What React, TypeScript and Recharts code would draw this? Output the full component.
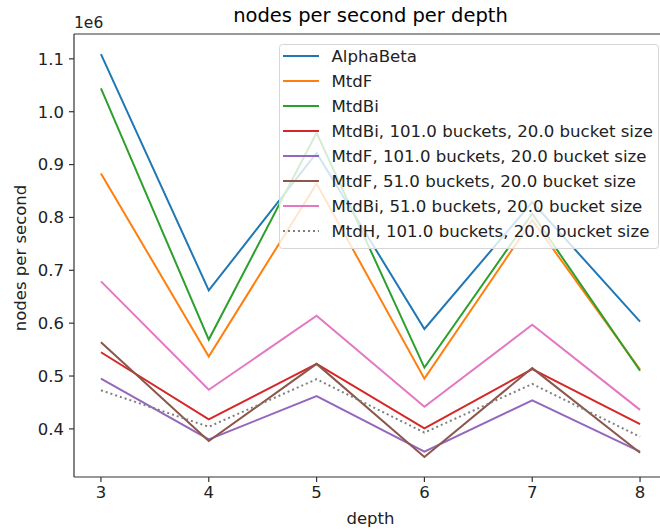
import React from 'react'
import { LineChart, Line, XAxis, YAxis, ReferenceLine } from 'recharts'

const depths = [3, 4, 5, 6, 7, 8]

const alphaBeta = [1109000, 662000, 922000, 589000, 829000, 603000]
const mtdF = [883000, 537000, 864000, 495000, 795000, 512000]
const mtdBi = [1044000, 569000, 960000, 516000, 807000, 510000]
const mtdBi101 = [545000, 418000, 523000, 401000, 513000, 409000]
const mtdF101 = [495000, 380000, 462000, 357000, 454000, 357000]
const mtdF51 = [564000, 377000, 523000, 347000, 515000, 355000]
const mtdBi51 = [679000, 474000, 614000, 442000, 597000, 436000]
const mtdH101 = [473000, 404000, 494000, 393000, 485000, 385000]

const xTicks = [3, 4, 5, 6, 7, 8]
const yTicks = [400000, 500000, 600000, 700000, 800000, 900000, 1000000, 1100000]

const series = [
  { key: 'ab', name: 'AlphaBeta', values: alphaBeta, color: '#1f77b4', dash: undefined },
  { key: 'f', name: 'MtdF', values: mtdF, color: '#ff7f0e', dash: undefined },
  { key: 'bi', name: 'MtdBi', values: mtdBi, color: '#2ca02c', dash: undefined },
  { key: 'bi101', name: 'MtdBi, 101.0 buckets, 20.0 bucket size', values: mtdBi101, color: '#d62728', dash: undefined },
  { key: 'f101', name: 'MtdF, 101.0 buckets, 20.0 bucket size', values: mtdF101, color: '#9467bd', dash: undefined },
  { key: 'f51', name: 'MtdF, 51.0 buckets, 20.0 bucket size', values: mtdF51, color: '#8c564b', dash: undefined },
  { key: 'bi51', name: 'MtdBi, 51.0 buckets, 20.0 bucket size', values: mtdBi51, color: '#e377c2', dash: undefined },
  { key: 'h101', name: 'MtdH, 101.0 buckets, 20.0 bucket size', values: mtdH101, color: '#7f7f7f', dash: '2 3' },
]

const data = depths.map((d, i) => {
  const row: Record<string, number> = { depth: d }
  series.forEach(s => { row[s.key] = s.values[i] })
  return row
})

const font = '"DejaVu Sans", sans-serif'
const fs = 16.5
const legendFs = 16.6
const yMin = 309000
const yMax = 1147000

function Overlay() {
  return (
    <svg
      width={660}
      height={531}
      style={{ position: 'absolute', left: 0, top: 0, pointerEvents: 'none' }}
      fontFamily={font}
    >
      <text x={370.5} y={15.5} textAnchor="middle" dominantBaseline="central" fontSize={19.5} fill="#000">
        nodes per second per depth
      </text>
      <text x={74} y={22.5} dominantBaseline="central" fontSize={15.5} fill="#222">1e6</text>
      <text x={370.5} y={518} textAnchor="middle" dominantBaseline="central" fontSize={fs} fill="#222">depth</text>
      <text
        x={20}
        y={258}
        textAnchor="middle"
        dominantBaseline="central"
        fontSize={fs}
        fill="#222"
        transform="rotate(-90 20 258)"
      >
        nodes per second
      </text>
      <g transform="translate(279,44)">
        <rect x={0.5} y={0.5} width={379} height={204} rx={3} fill="#fff" fillOpacity={0.8} stroke="#d6d6d6" />
        {series.map((s, i) => (
          <g key={s.key} transform={`translate(0,${12 + i * 25})`}>
            <line x1={4} x2={40} y1={0} y2={0} stroke={s.color} strokeWidth={2} strokeDasharray={s.dash} />
            <text x={52.5} y={0} dominantBaseline="central" fontSize={legendFs} fill="#222">{s.name}</text>
          </g>
        ))}
      </g>
    </svg>
  )
}

export default function App() {
  return (
    <div style={{ position: 'absolute', left: 0, top: 0, width: 660, height: 531, overflow: 'hidden', background: '#fff' }}>
      <LineChart
        width={680}
        height={531}
        data={data}
        margin={{ top: 34, right: 13, bottom: 24, left: 14 }}
      >
        <XAxis
          dataKey="depth"
          type="number"
          domain={[2.75, 8.25]}
          ticks={xTicks}
          height={30}
          stroke="#333"
          tickSize={5}
          tickMargin={4}
          tick={{ fill: '#222', fontSize: fs, fontFamily: font }}
          axisLine={{ stroke: '#333', strokeWidth: 1.2 }}
          tickLine={{ stroke: '#333', strokeWidth: 1.2 }}
        />
        <YAxis
          type="number"
          domain={[yMin, yMax]}
          ticks={yTicks}
          allowDataOverflow
          width={60}
          stroke="#333"
          tickSize={5}
          tickMargin={5}
          tickFormatter={(v: number) => (v / 1e6).toFixed(1)}
          tick={{ fill: '#222', fontSize: fs, fontFamily: font }}
          axisLine={{ stroke: '#333', strokeWidth: 1.2 }}
          tickLine={{ stroke: '#333', strokeWidth: 1.2 }}
        />
        <ReferenceLine y={yMax} stroke="#333" strokeWidth={1.2} />
        {series.map(s => (
          <Line
            key={s.key}
            dataKey={s.key}
            name={s.name}
            type="linear"
            stroke={s.color}
            strokeWidth={2}
            strokeDasharray={s.dash}
            dot={false}
            activeDot={false}
            isAnimationActive={false}
          />
        ))}
      </LineChart>
      <Overlay />
    </div>
  )
}
